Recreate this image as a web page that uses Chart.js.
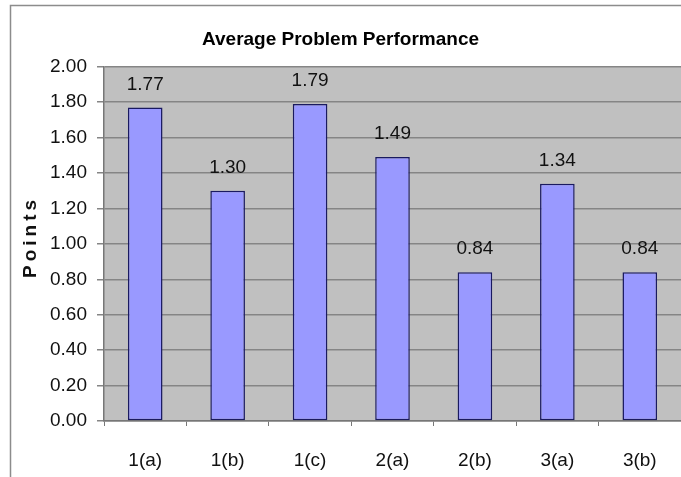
<!DOCTYPE html>
<html>
<head>
<meta charset="utf-8">
<script src="https://cdn.jsdelivr.net/npm/chart.js@4"></script>
<style>
  body { margin: 0; background: #fff; }
  #wrap { position: relative; width: 681px; height: 477px; }
</style>
</head>
<body>
<div id="wrap"><canvas id="perfChart"></canvas></div>
<script>
const categories = ['1(a)', '1(b)', '1(c)', '2(a)', '2(b)', '3(a)', '3(b)'];
const avgPoints = [1.77, 1.30, 1.79, 1.49, 0.84, 1.34, 0.84];
const yTicks = [0, 0.2, 0.4, 0.6, 0.8, 1.0, 1.2, 1.4, 1.6, 1.8, 2.0];

const FONT = "'Liberation Sans Narrow', 'Arial Narrow', 'Liberation Sans', Arial, sans-serif";

// grey plot background + outer frame
const backdrop = {
    id: 'backdrop',
    beforeDraw(chart) {
        const ctx = chart.ctx;
        const a = chart.chartArea;
        ctx.save();
        ctx.strokeStyle = '#8c8c8c';
        ctx.lineWidth = 1.5;
        ctx.strokeRect(10.5, 5.5, 760, 520);
        ctx.fillStyle = '#c0c0c0';
        ctx.fillRect(a.left, a.top, a.right - a.left, a.bottom - a.top);
        ctx.restore();
    }
};

// value labels above bars and spaced y axis title
const labels = {
    id: 'labels',
    afterDatasetsDraw(chart) {
        const ctx = chart.ctx;
        ctx.save();
        ctx.fillStyle = '#111';
        ctx.font = '19px ' + FONT;
        ctx.textAlign = 'center';
        ctx.textBaseline = 'middle';
        chart.getDatasetMeta(0).data.forEach((bar, i) => {
            ctx.fillText(avgPoints[i].toFixed(2), bar.x, bar.y - 23);
        });
        ctx.translate(31, 239);
        ctx.rotate(-Math.PI / 2);
        ctx.font = 'bold 19px ' + FONT;
        ctx.letterSpacing = '4px';
        ctx.fillText('Points', 2, 0);
        ctx.restore();
    }
};

new Chart(document.getElementById('perfChart'), {
    type: 'bar',
    data: {
        labels: categories,
        datasets: [{
            data: avgPoints,
            backgroundColor: '#9999ff',
            borderColor: '#1a1a60',
            borderWidth: 1.5,
            borderSkipped: false,
            barPercentage: 0.42,
            categoryPercentage: 1
        }]
    },
    options: {
        responsive: true,
        maintainAspectRatio: false,
        animation: false,
        layout: { padding: 0 },
        plugins: {
            legend: { display: false },
            tooltip: { enabled: false },
            title: {
                display: true,
                text: 'Average Problem Performance',
                color: '#000',
                font: { family: FONT, size: 19, weight: 'bold' },
                padding: { top: 28, bottom: 16 }
            }
        },
        scales: {
            x: {
                grid: {
                    offset: true,
                    drawOnChartArea: false,
                    drawTicks: true,
                    tickLength: 5,
                    color: '#777'
                },
                border: { color: '#777', width: 1.5 },
                ticks: {
                    color: '#111',
                    font: { family: FONT, size: 19 },
                    padding: 23
                },
                afterFit(scale) { scale.height = 56; }
            },
            y: {
                min: 0,
                max: 2,
                afterBuildTicks(scale) {
                    scale.ticks = yTicks.map(v => ({ value: v }));
                },
                grid: {
                    color: '#858585',
                    lineWidth: 1.5,
                    tickLength: 7
                },
                border: { color: '#777', width: 1.5 },
                ticks: {
                    color: '#111',
                    font: { family: FONT, size: 19 },
                    padding: 10,
                    callback: v => Number(v).toFixed(2)
                },
                afterFit(scale) { scale.width = 104; }
            }
        }
    },
    plugins: [backdrop, labels]
});
</script>
</body>
</html>
